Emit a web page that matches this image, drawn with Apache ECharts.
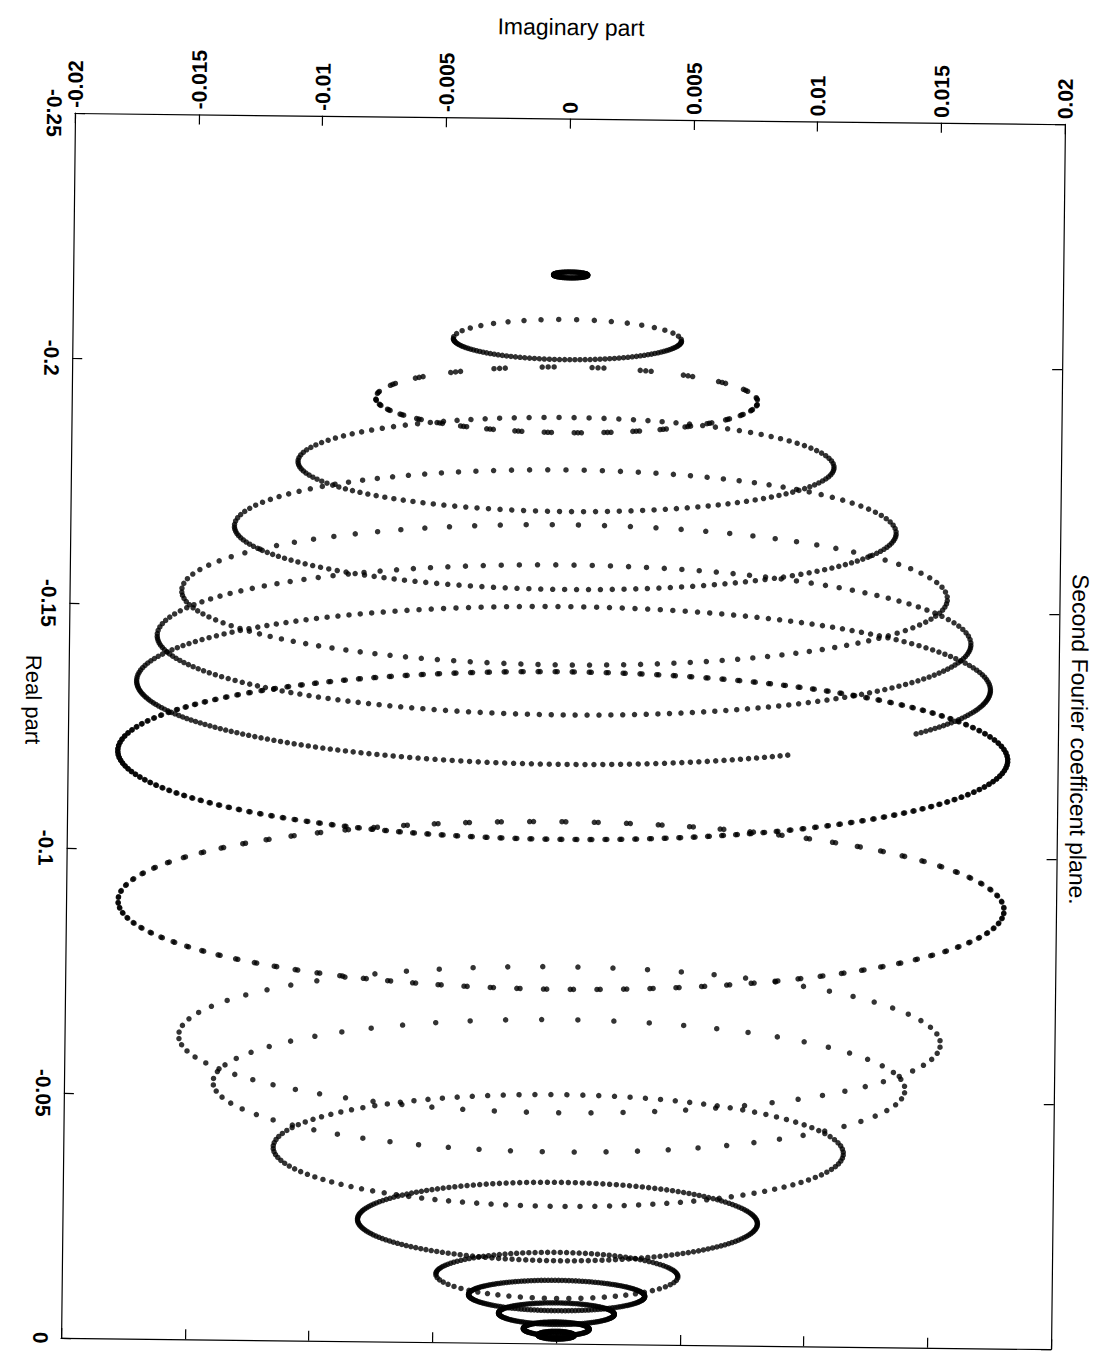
<!DOCTYPE html>
<html>
<head>
<meta charset="utf-8">
<script src="https://cdn.jsdelivr.net/npm/echarts@6/dist/echarts.min.js"></script>
<style>
  html, body { margin: 0; padding: 0; background: #fff; overflow: hidden; }
  #chart { width: 1105px; height: 1355px; transform: rotate(0.65deg); transform-origin: 75px 113px; }
</style>
</head>
<body>
<div id="chart"></div>
<script>
// Axis ticks and their printed labels
const imagTicks = [-0.02, -0.015, -0.01, -0.005, 0, 0.005, 0.01, 0.015, 0.02];
const imagTickLabels = ['-0.02', '-0.015', '-0.01', '-0.005', '0', '0.005', '0.01', '0.015', '0.02'];
const realTicks = [-0.25, -0.2, -0.15, -0.1, -0.05, 0];
const realTickLabels = ['-0.25', '-0.2', '-0.15', '-0.1', '-0.05', '0'];

// Orbit loops of the second Fourier coefficient, one entry per loop (top to bottom)
// centre of each loop
const loopReal = [-0.2181, -0.2049, -0.1926, -0.1794, -0.1661, -0.1528, -0.1436, -0.1343, -0.1200, -0.0894,
                  -0.0620, -0.0526, -0.0394, -0.0249, -0.0139, -0.0098, -0.0061, -0.0030, -0.0017];
const loopImag = [0.0001, 0, 0, 0, 0, 0, 0, 0, 0, 0, 0, 0, 0, 0, 0, 0, 0, 0, 0];
// half extent of each loop along the real and imaginary directions
const loopHalfReal = [0.0006, 0.0041, 0.0067, 0.0096, 0.0122, 0.0143, 0.0153, 0.0161, 0.0171, 0.0171,
                      0.0149, 0.0135, 0.0114, 0.0080, 0.0047, 0.0031, 0.0022, 0.0014, 0.0008];
const loopHalfImag = [0.00069, 0.00461, 0.00772, 0.01083, 0.01337, 0.01547, 0.01644, 0.01725, 0.01798, 0.0179,
                      0.01539, 0.01398, 0.01152, 0.00808, 0.00489, 0.00356, 0.00234, 0.00133, 0.00073];
// number of samples on the more negative (upper) and less negative (lower) half of each loop
const upperSamples = [40, 20, 12, 56, 57, 46, 70, 104, 82, 43, 34, 30, 56, 90, 60, 80, 70, 60, 40];
const lowerSamples = [40, 70, 20, 70, 87, 70, 107, 150, 93, 52, 37, 34, 60, 90, 31, 80, 70, 60, 40];
// samples taken in quick succession at each step
const burstSamples = [1, 1, 3, 1, 1, 1, 1, 1, 2, 2, 1, 1, 1, 1, 1, 1, 1, 1, 1];
// phase interval (radians) with no samples on a loop
const gapFrom = [0, 0, 0, 0, 0, 0, 0, 0.60, 0, 0, 0, 0, 0, 0, 0, 0, 0, 0, 0];
const gapTo   = [0, 0, 0, 0, 0, 0, 0, 1.01, 0, 0, 0, 0, 0, 0, 0, 0, 0, 0, 0];

function loopSamples(i) {
  const pts = [];
  const half = (start, n) => {
    const step = Math.PI / n;
    for (let k = 0; k < n; k++) {
      for (let j = 0; j < burstSamples[i]; j++) {
        const t = start + (k + 0.5) * step + j * 0.12 * step;
        if (t > gapFrom[i] && t < gapTo[i]) continue;
        pts.push([loopImag[i] + loopHalfImag[i] * Math.cos(t),
                  loopReal[i] + loopHalfReal[i] * Math.sin(t)]);
      }
    }
  };
  half(0, lowerSamples[i]);
  half(Math.PI, upperSamples[i]);
  return pts;
}

const samples = [];
for (let i = 0; i < loopReal.length; i++) samples.push(...loopSamples(i));

const FONT = '"Liberation Sans", Arial, Helvetica, sans-serif';
const labelOf = (ticks, labels) => v => {
  let best = 0;
  ticks.forEach((t, i) => { if (Math.abs(t - v) < Math.abs(ticks[best] - v)) best = i; });
  return labels[best];
};

const frameAxis = {
  axisLine: { show: true, onZero: false, lineStyle: { color: '#000', width: 1.2 } },
  axisTick: { show: true, inside: true, length: 10, lineStyle: { color: '#000', width: 1.2 } },
  splitLine: { show: false }
};

const chart = echarts.init(document.getElementById('chart'), null, { renderer: 'svg' });
chart.setOption({
  backgroundColor: '#fff',
  animation: false,
  grid: { left: 75, right: 40, top: 113, bottom: 17, containLabel: false },
  xAxis: [
    Object.assign({
      type: 'value', position: 'top',
      min: imagTicks[0], max: imagTicks[imagTicks.length - 1], interval: 0.005,
      name: 'Imaginary part', nameLocation: 'middle', nameGap: 80,
      nameTextStyle: { fontFamily: FONT, fontSize: 23, color: '#000' },
      axisLabel: { show: true, rotate: -90, margin: 5, fontFamily: FONT, fontSize: 21, fontWeight: 'bold', color: '#000',
                   showMinLabel: true, showMaxLabel: true, formatter: labelOf(imagTicks, imagTickLabels) }
    }, frameAxis),
    Object.assign({
      type: 'value', position: 'bottom',
      min: imagTicks[0], max: imagTicks[imagTicks.length - 1], interval: 0.005,
      axisLabel: { show: false }
    }, frameAxis)
  ],
  yAxis: [
    Object.assign({
      type: 'value', position: 'left', inverse: true,
      min: realTicks[0], max: realTicks[realTicks.length - 1], interval: 0.05,
      axisLabel: { show: true, rotate: -90, margin: 10, fontFamily: FONT, fontSize: 21, fontWeight: 'bold', color: '#000',
                   showMinLabel: true, showMaxLabel: true, formatter: labelOf(realTicks, realTickLabels) }
    }, frameAxis),
    Object.assign({
      type: 'value', position: 'right', inverse: true,
      min: realTicks[0], max: realTicks[realTicks.length - 1], interval: 0.05,
      axisLabel: { show: false }
    }, frameAxis)
  ],
  graphic: [{
    type: 'text', x: 40, y: 700, rotation: -Math.PI / 2,
    style: { text: 'Real part', fontFamily: FONT, fontSize: 22, fill: '#000',
             textAlign: 'center', textVerticalAlign: 'middle' }
  }, {
    type: 'text', x: 1086, y: 728, rotation: -Math.PI / 2,
    style: { text: 'Second Fourier coefficent plane.', fontFamily: FONT, fontSize: 23, fill: '#000',
             textAlign: 'center', textVerticalAlign: 'middle' }
  }],
  series: [{
    type: 'scatter', xAxisIndex: 0, yAxisIndex: 0,
    data: samples, symbol: 'circle', symbolSize: 5.5,
    itemStyle: { color: '#000' }, silent: true, large: false
  }]
});
</script>
</body>
</html>
